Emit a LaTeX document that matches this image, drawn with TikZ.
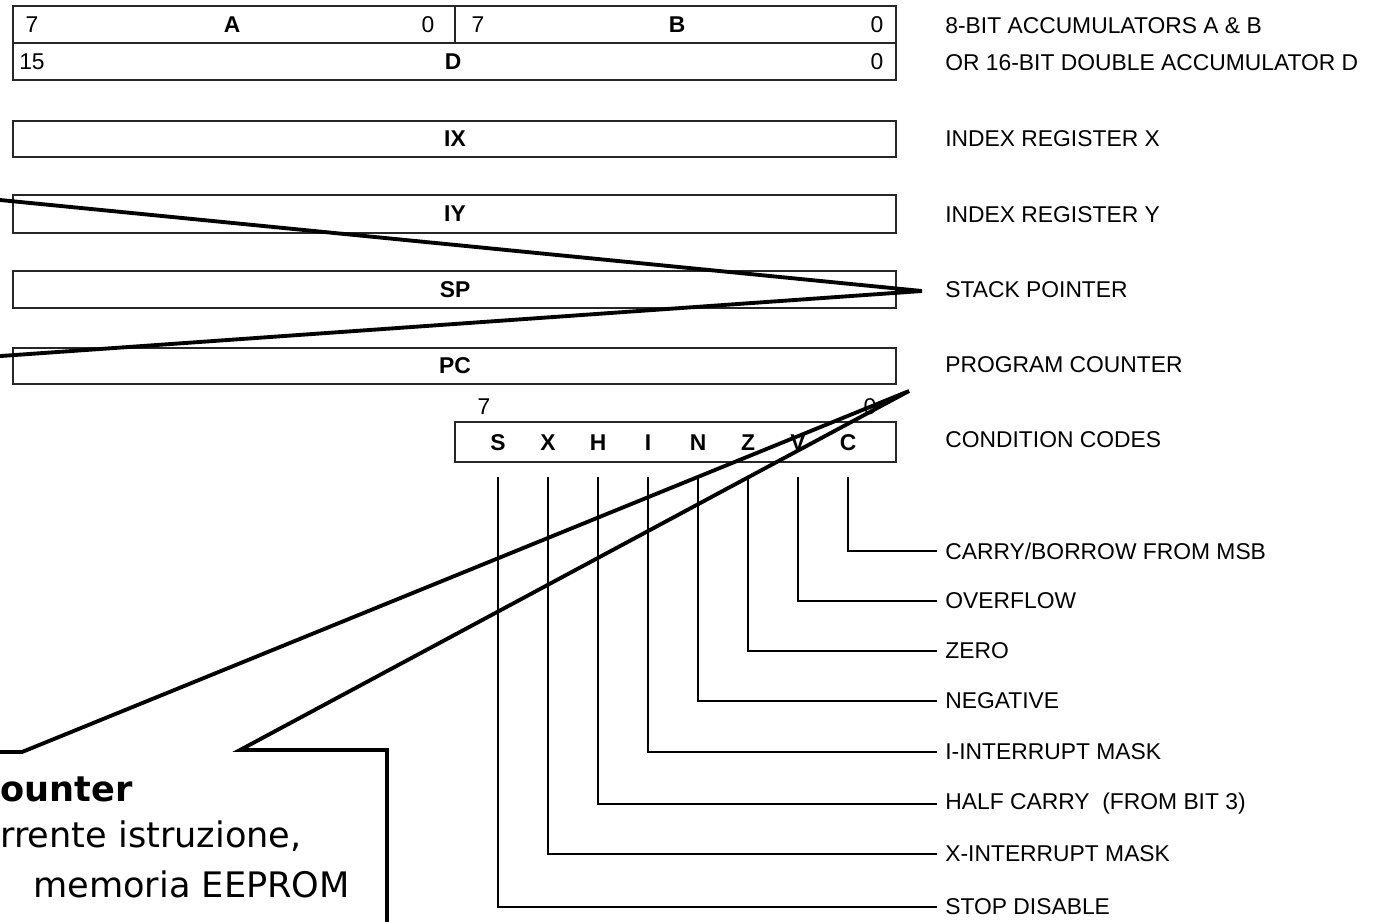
\documentclass[tikz,border=0pt]{standalone}
\usepackage{fontspec}
\setmainfont{Liberation Sans}
\newfontfamily\callfont{DejaVu Sans}
\begin{document}
\begin{tikzpicture}[x=0.02cm,y=-0.02cm,
  reg/.style={draw=black!85,line width=1.2pt},
  lbl/.style={anchor=west,inner sep=0pt,font=\fontsize{13}{15}\selectfont},
  num/.style={inner sep=0pt,font=\fontsize{13}{15}\selectfont},
  bit/.style={inner sep=0pt,font=\fontsize{13}{15}\selectfont\bfseries},
  lead/.style={line width=1pt,shorten >=0.16cm},
  call/.style={line width=2.2pt,line join=miter}]
\useasboundingbox (0,0) rectangle (1385,921);
\clip (0,0) rectangle (1385,921);
% register boxes
\draw[reg] (13,6) rectangle (896,80);
\draw[reg] (13,43) -- (896,43);
\draw[reg] (455,6) -- (455,43);
\draw[reg] (13,121) rectangle (896,157);
\draw[reg] (13,195) rectangle (896,233);
\draw[reg] (13,271) rectangle (896,308);
\draw[reg] (13,348) rectangle (896,384);
\draw[reg] (455,422) rectangle (896,462);
% texts in the boxes
\node[num] (aHi) at (32,25) {7};
\node[bit] (regA) at (232,25) {A};
\node[num] (aLo) at (428,25) {0};
\node[num] (bHi) at (478,25) {7};
\node[bit] (regB) at (677,25) {B};
\node[num] (bLo) at (877,25) {0};
\node[num] (dHi) at (32,62) {15};
\node[bit] (regD) at (453,62) {D};
\node[num] (dLo) at (877,62) {0};
\node[bit] (regIX) at (455,139) {IX};
\node[bit] (regIY) at (455,214) {IY};
\node[bit] (regSP) at (455,290) {SP};
\node[bit] (regPC) at (455,366) {PC};
\node[num] (ccHi) at (484,407) {7};
\node[num] (ccLo) at (870,407) {0};
% register names
\node[lbl] (lAB) at (945,26) {8-BIT ACCUMULATORS A \& B};
\node[lbl] (lD) at (945,63) {OR 16-BIT DOUBLE ACCUMULATOR D};
\node[lbl] (lIX) at (945,139) {INDEX REGISTER X};
\node[lbl] (lIY) at (945,215) {INDEX REGISTER Y};
\node[lbl] (lSP) at (945,290) {STACK POINTER};
\node[lbl] (lPC) at (945,365) {PROGRAM COUNTER};
\node[lbl] (lCC) at (945,440) {CONDITION CODES};
% condition code bits
\foreach \b [count=\i from 0] in {S,X,H,I,N,Z,V,C}
  \node[bit] (b\b) at (498+50*\i,443) {\b};
\foreach \b/\yy/\t in {C/551/{CARRY/BORROW FROM MSB},V/601/OVERFLOW,Z/651/ZERO,
    N/701/NEGATIVE,I/752/I-INTERRUPT MASK,H/804/HALF CARRY~ (FROM BIT 3),
    X/854/X-INTERRUPT MASK,S/907/STOP DISABLE}{
  \node[lbl] (f\b) at (945,\yy) {\t};
  \draw[lead] (b\b) ++(0,34) |- (f\b.west);
}
% callouts
\coordinate (spPtr) at (922,291);
\coordinate (pcPtr) at (909,391);
\draw[call] (-5,199.5) -- (spPtr) -- (-5,356.4);
\draw[call] (-5,752) -- (22,752) -- (pcPtr) -- (240,750) -- (387,750) -- (387,940);
\node[anchor=west,inner sep=0pt,font=\callfont\fontsize{20}{24}\selectfont\bfseries] (cTitle) at (0,789) {ounter};
\node[anchor=west,inner sep=0pt,font=\callfont\fontsize{20}{24}\selectfont] (cLine1) at (0,836) {rrente istruzione,};
\node[anchor=west,inner sep=0pt,font=\callfont\fontsize{20}{24}\selectfont] (cLine2) at (33,884) {memoria EEPROM};
\end{tikzpicture}
\end{document}
